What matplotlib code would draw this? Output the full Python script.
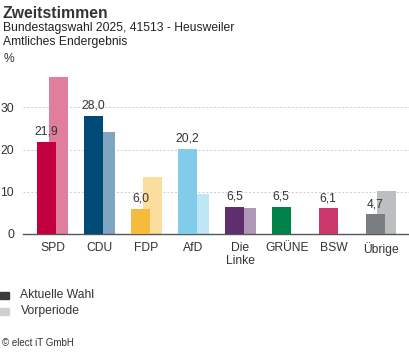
import matplotlib.pyplot as plt
from matplotlib.patches import Rectangle
import numpy as np

plt.rcParams['font.family'] = ['Liberation Sans', 'DejaVu Sans']

# Daten
parteien = ["SPD", "CDU", "FDP", "AfD", "Die\nLinke", "GRÜNE", "BSW", "Übrige"]
aktuell = [21.9, 28.0, 6.0, 20.2, 6.5, 6.5, 6.1, 4.7]
vorperiode = [37.3, 24.2, 13.6, 9.5, 6.2, None, None, 10.3]
farben_akt = ["#C3003E", "#004B76", "#F6BB3C", "#80CCEA", "#5F2E6F", "#00834A", "#C9376B", "#7A7E80"]
farben_vor = ["#E17E9E", "#7FA5C0", "#FBDD9D", "#BFE6F4", "#AF97B7", "#9FD1B8", "#E49BB5", "#BCBFBF"]
yticks = [0, 10, 20, 30]

fs = 8.7
W, H = 410, 352
fig = plt.figure(figsize=(W / 100, H / 100), dpi=100)
ax = fig.add_axes([23 / W, (H - 234) / H, 1 - 23 / W, (234 - 65.3) / H])

x = np.arange(len(parteien))
breite = 0.405
versatz = 0.125

# Vorperiode hinten
for i, v in enumerate(vorperiode):
    if v is not None:
        ax.bar(x[i] + versatz, v, breite, color=farben_vor[i], zorder=2)
# Aktuelle Wahl vorne
ax.bar(x - versatz, aktuell, breite, color=farben_akt, zorder=3)

for i, v in enumerate(aktuell):
    ax.annotate(f"{v:.1f}".replace(".", ","), (x[i] - versatz, v),
                xytext=(0, 3), textcoords="offset points",
                ha="center", va="bottom", fontsize=fs, color="#333333", zorder=5)

ax.set_xlim(-0.63, 7.62)
ax.set_ylim(0, 40)
ax.set_xticks(x)
ax.set_xticklabels(parteien, fontsize=fs, color="#333333", linespacing=1.1)
ax.set_yticks(yticks)
ax.set_yticklabels([str(t) for t in yticks], fontsize=fs, color="#333333")
ax.tick_params(axis="both", length=0)
ax.tick_params(axis="x", pad=6)
ax.tick_params(axis="y", pad=6.5)

for t in yticks[1:]:
    ax.axhline(t, color="#cccccc", lw=0.7, ls=(0, (2, 2)), zorder=1)

for s in ["top", "right", "left"]:
    ax.spines[s].set_visible(False)
ax.spines["bottom"].set_color("#555555")
ax.spines["bottom"].set_linewidth(1.0)

# Titel
fig.text(3 / W, 1 - 17.5 / H, "Zweitstimmen", fontsize=11.3, fontweight="bold",
         color="#333333", va="baseline")
fig.text(3 / W, 1 - 31.5 / H, "Bundestagswahl 2025, 41513 - Heusweiler", fontsize=fs,
         color="#222222", va="baseline")
fig.text(3 / W, 1 - 45.5 / H, "Amtliches Endergebnis", fontsize=fs,
         color="#222222", va="baseline")
fig.text(4 / W, 1 - 62 / H, "%", fontsize=fs, color="#333333", va="baseline")

# Legende
for yy, farbe, txt in [(295, "#3A3A3A", "Aktuelle Wahl"), (311, "#D0D0D0", "Vorperiode")]:
    fig.patches.append(Rectangle((0, 1 - (yy + 3.5) / H), 9 / W, 7 / H,
                                 transform=fig.transFigure, color=farbe))
    fig.text(20.5 / W, 1 - yy / H, txt, fontsize=fs, color="#333333", va="center")

fig.text(2 / W, 1 - 343 / H, "© elect iT GmbH", fontsize=7.0, color="#333333", va="center")

fig.savefig("out.png", dpi=100)
